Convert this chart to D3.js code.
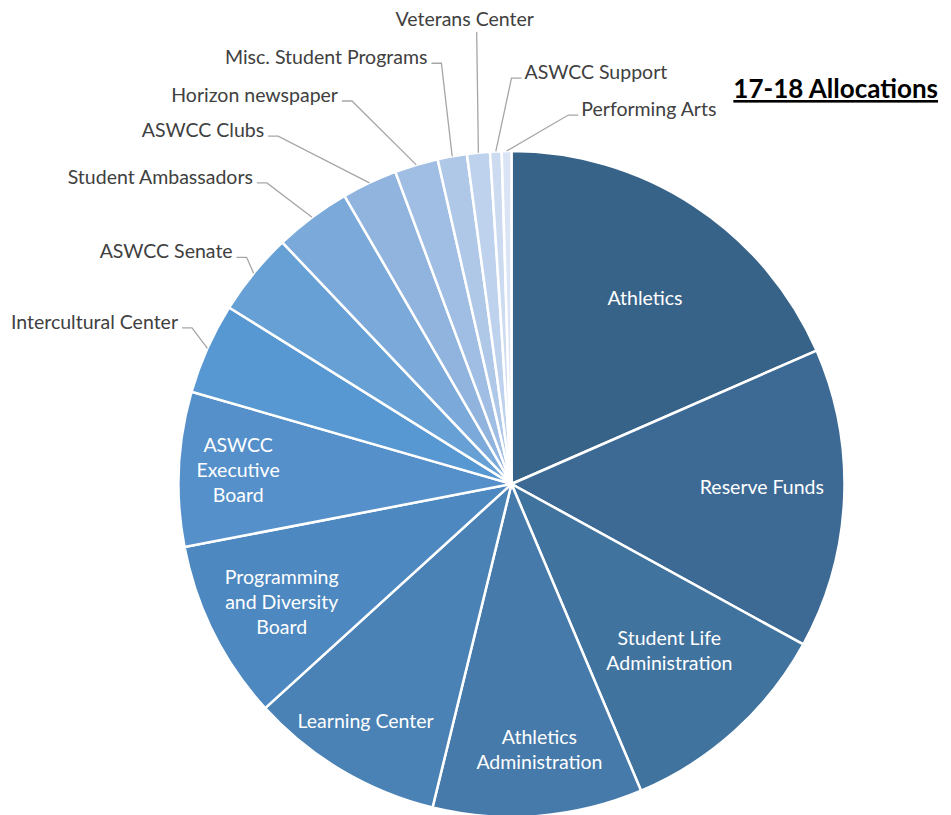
<!DOCTYPE html>
<html>
<head>
<meta charset="utf-8">
<script src="https://cdn.jsdelivr.net/npm/d3@7"></script>
<style>
  body { margin: 0; background: #fff; }
  svg { display: block; font-family: Lato, "Open Sans", sans-serif; }
</style>
</head>
<body>
<svg id="chart"></svg>
<script>
// share of the 17-18 budget, percent
const categories = [
  'Athletics', 'Reserve Funds', 'Student Life Administration', 'Athletics Administration',
  'Learning Center', 'Programming and Diversity Board', 'ASWCC Executive Board',
  'Intercultural Center', 'ASWCC Senate', 'Student Ambassadors', 'ASWCC Clubs',
  'Horizon newspaper', 'Misc. Student Programs', 'Veterans Center', 'ASWCC Support',
  'Performing Arts'
];
const shares = [18.44, 14.56, 10.64, 10.17, 9.44, 8.72, 7.50, 4.42, 4.03, 3.72, 2.69, 2.11, 1.42, 1.11, 0.56, 0.47];

// how the label text is broken for the slices labelled inside
const labelLines = [
  ['Athletics'], ['Reserve Funds'], ['Student Life', 'Administration'], ['Athletics', 'Administration'],
  ['Learning Center'], ['Programming', 'and Diversity', 'Board'], ['ASWCC', 'Executive', 'Board'],
  ['Intercultural Center'], ['ASWCC Senate'], ['Student Ambassadors'], ['ASWCC Clubs'],
  ['Horizon newspaper'], ['Misc. Student Programs'], ['Veterans Center'], ['ASWCC Support'],
  ['Performing Arts']
];

const colors = ['#386389', '#3d6a94', '#41739f', '#467aaa', '#4a82b5', '#4d88c0', '#5590ca',
  '#5797d2', '#67a0d5', '#7aa9da', '#91b4df', '#a0bee4', '#b0c8e8', '#bed2ed', '#ccdbf0', '#dae4f4'];

// label placement: where = inside / left / right / top, turn = degrees off the slice middle, dist = x radius
const labelWhere = ['in', 'in', 'in', 'in', 'in', 'in', 'in', 'left', 'left', 'left', 'left', 'left', 'left', 'top', 'right', 'right'];
const labelTurn = [2.5, -2.0, -1.5, -1.4, 0.9, -0.6, 0.3, 2.0, 1.3, -2.3, -8.6, -6.0, 0.8, 1.3, 2.7, 9.6];
const labelDist = [0.687, 0.752, 0.688, 0.803, 0.836, 0.776, 0.822, 1.068, 1.047, 1.165, 1.258, 1.246, 1.281, 1.361, 1.219, 1.121];

const width = 951, height = 815;
const cx = 511.5, cy = 484, radius = 333;
const fontSize = 19.5;

const svg = d3.select('#chart').attr('width', width).attr('height', height);

const data = categories.map((name, i) => ({ name, value: shares[i], i }));

const pie = d3.pie().value(d => d.value).sort(null);
const arcs = pie(data);
const arc = d3.arc().innerRadius(0).outerRadius(radius);

const g = svg.append('g').attr('transform', `translate(${cx},${cy})`);

// slices
g.selectAll('path.slice')
  .data(arcs)
  .join('path')
  .attr('class', 'slice')
  .attr('d', arc)
  .attr('fill', d => colors[d.data.i])
  .attr('stroke', '#fff')
  .attr('stroke-width', 2.5)
  .attr('stroke-linejoin', 'round');

const mid = d => (d.startAngle + d.endAngle) / 2;
const rad = deg => deg * Math.PI / 180;

// inside labels
const inside = arcs.filter(d => labelWhere[d.data.i] === 'in');
const lineH = 25;
inside.forEach(d => {
  const i = d.data.i;
  const [x, y] = d3.pointRadial(mid(d) + rad(labelTurn[i]), radius * labelDist[i]);
  const lines = labelLines[i];
  const t = g.append('text')
    .attr('text-anchor', 'middle')
    .attr('fill', '#fff')
    .attr('font-size', fontSize);
  lines.forEach((ln, k) => {
    t.append('tspan')
      .attr('x', x)
      .attr('y', y + (k - (lines.length - 1) / 2) * lineH + 7)
      .text(ln);
  });
});

// outside labels with leader lines
const outside = arcs.filter(d => labelWhere[d.data.i] !== 'in');
outside.forEach(d => {
  const i = d.data.i;
  const where = labelWhere[i];
  const edge = d3.pointRadial(mid(d), radius);
  const [ex, ey] = d3.pointRadial(mid(d) + rad(labelTurn[i]), radius * labelDist[i]);
  let pts, tx, ty, anchor;
  if (where === 'left') {
    pts = [edge, [ex, ey], [ex - 10, ey]];
    tx = ex - 14; ty = ey + 1; anchor = 'end';
  } else if (where === 'right') {
    pts = [edge, [ex, ey], [ex + 10, ey]];
    tx = ex + 13; ty = ey + 1; anchor = 'start';
  } else {
    pts = [edge, [ex, ey]];
    tx = ex - 12; ty = ey - 6; anchor = 'middle';
  }
  g.append('path')
    .attr('d', d3.line()(pts))
    .attr('fill', 'none')
    .attr('stroke', '#a6a6a6')
    .attr('stroke-width', 1.3);
  g.append('text')
    .attr('x', tx)
    .attr('y', ty)
    .attr('text-anchor', anchor)
    .attr('fill', '#404040')
    .attr('font-size', fontSize)
    .text(labelLines[i][0]);
});

// title
svg.append('text')
  .attr('x', 938)
  .attr('y', 98)
  .attr('text-anchor', 'end')
  .attr('font-size', 26)
  .attr('font-weight', 'bold')
  .attr('fill', '#000')
  .attr('text-decoration', 'underline')
  .text('17-18 Allocations');
</script>
</body>
</html>
